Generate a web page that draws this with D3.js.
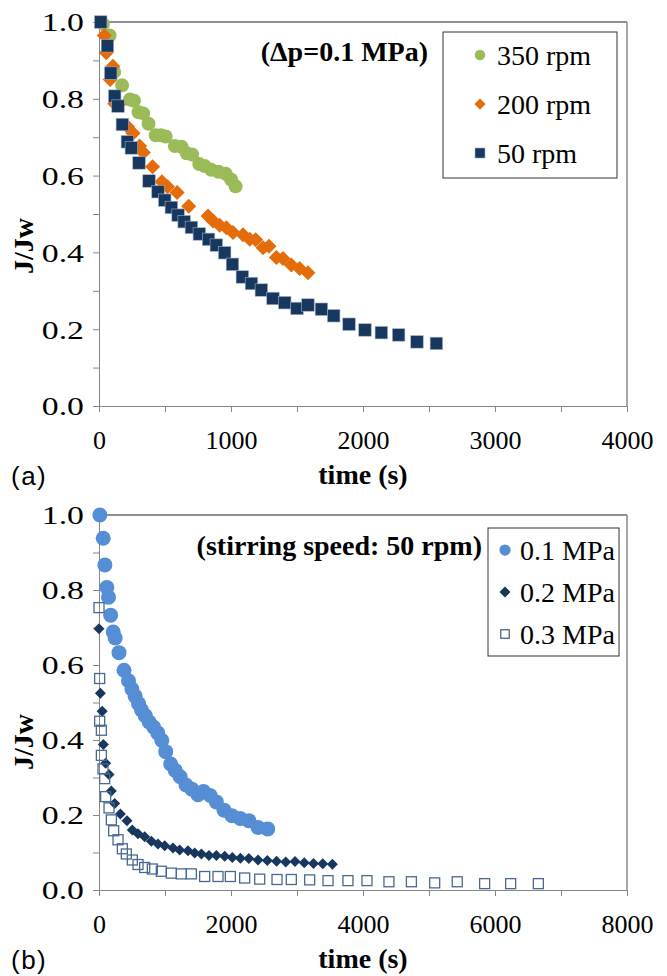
<!DOCTYPE html>
<html>
<head>
<meta charset="utf-8">
<script src="https://cdn.jsdelivr.net/npm/d3@7"></script>
<style>
	body { margin: 0; background: #fff; }
	svg { display: block; }
</style>
</head>
<body>
<div id="chart"></div>
<script>
// panel (a): normalised flux J/Jw vs time at dp = 0.1 MPa, three stirring speeds
// each entry is [time (s), J/Jw]
const rpm350 = [[30,0.995],[80,0.965],[115,0.87],[175,0.835],[235,0.798],[265,0.795],[300,0.765],[335,0.762],
	[375,0.735],[430,0.705],[470,0.705],[505,0.702],[575,0.677],[625,0.675],[665,0.658],[705,0.655],[760,0.63],
	[800,0.625],[850,0.615],[905,0.61],[960,0.605],[1000,0.59],[1035,0.572]]

const rpm200 = [[40,0.965],[55,0.92],[105,0.885],[85,0.85],[120,0.787],[150,0.785],[215,0.728],[258,0.71],
	[308,0.677],[336,0.66],[406,0.623],[477,0.584],[519,0.571],[592,0.556],[680,0.52],[826,0.495],[864,0.482],
	[914,0.471],[965,0.464],[1015,0.452],[1091,0.446],[1142,0.434],[1187,0.433],[1243,0.412],[1288,0.416],
	[1344,0.387],[1394,0.384],[1457,0.367],[1520,0.358],[1583,0.347]]

// same run appears in panel (b) as the 0.1 MPa series
const rpm50 = [[13,1.0],[64,0.938],[89,0.867],[119,0.807],[144,0.781],[177,0.733],[215,0.688],[245,0.672],
	[303,0.633],[379,0.586],[447,0.558],[498,0.536],[548,0.517],[599,0.497],[645,0.48],[700,0.465],[760,0.448],
	[830,0.434],[889,0.419],[952,0.399],[1011,0.369],[1086,0.336],[1155,0.319],[1230,0.302],[1318,0.28],
	[1407,0.269],[1500,0.254],[1583,0.263],[1685,0.252],[1778,0.235],[1894,0.213],[2015,0.198],[2139,0.191],
	[2270,0.185],[2409,0.167],[2556,0.163]]

// panel (b): 50 rpm, three pressures
const mpa01 = rpm50

const mpa02 = [[0,0.697],[21,0.525],[48,0.477],[66,0.388],[101,0.338],[152,0.308],[187,0.264],[238,0.231],
	[324,0.203],[424,0.185],[505,0.16],[591,0.15],[692,0.142],[793,0.13],[894,0.123],[995,0.118],[1121,0.112],
	[1222,0.107],[1348,0.105],[1450,0.099],[1551,0.096],[1666,0.092],[1778,0.092],[1904,0.09],[2020,0.087],
	[2142,0.085],[2270,0.084],[2410,0.08],[2550,0.079],[2690,0.077],[2830,0.075],[2970,0.076],[3110,0.073],
	[3250,0.071],[3390,0.07],[3536,0.069]]

const mpa03 = [[0,0.753],[10,0.564],[10,0.45],[36,0.426],[36,0.359],[61,0.323],[86,0.297],[101,0.249],
	[152,0.219],[187,0.187],[222,0.158],[288,0.134],[354,0.11],[414,0.096],[505,0.08],[591,0.068],[692,0.06],
	[808,0.056],[944,0.05],[1096,0.045],[1248,0.043],[1399,0.043],[1601,0.036],[1803,0.036],[1990,0.036],
	[2207,0.032],[2435,0.029],[2697,0.028],[2914,0.028],[3192,0.027],[3470,0.025],[3772,0.025],[4060,0.025],
	[4393,0.022],[4733,0.022],[5086,0.019],[5428,0.022],[5843,0.017],[6237,0.017],[6657,0.017]]

const legendA = ['350 rpm', '200 rpm', '50 rpm']
const legendB = ['0.1 MPa', '0.2 MPa', '0.3 MPa']

const serif = "'Liberation Serif', 'Times New Roman', serif"
const sans = "'Liberation Sans', Arial, sans-serif"
const axisGrey = '#868686'

const svg = d3.select('#chart')
	.append('svg')
	.attr('width', 667)
	.attr('height', 976)

// draws one marker of the given style at x, y
function drawMarker(g, st, x, y, legend) {
	const k = legend ? st.legendScale : 1
	if (st.shape == 'circle') {
		g.append('circle')
			.attr('cx', x).attr('cy', y)
			.attr('r', st.size / 2 * k)
			.attr('fill', st.fill)
	} else if (st.shape == 'diamond') {
		const h = st.size / 2 * k
		g.append('path')
			.attr('d', `M${x},${y - h}L${x + h},${y}L${x},${y + h}L${x - h},${y}Z`)
			.attr('fill', st.fill)
	} else if (st.shape == 'square') {
		const h = st.size / 2 * k
		g.append('rect')
			.attr('x', x - h).attr('y', y - h)
			.attr('width', 2 * h).attr('height', 2 * h)
			.attr('fill', st.fill)
			.attr('stroke', st.stroke)
			.attr('stroke-width', st.strokeWidth)
	}
}

function panel(p) {
	const x = d3.scaleLinear().domain([0, p.xMax]).range([99, 627])
	const y = d3.scaleLinear().domain([0, 1]).range([p.bottom, p.top])

	const g = svg.append('g')

	// x axis: ticks every p.xMinor, labels every p.xLabel
	const xAxis = d3.axisBottom(x)
		.tickValues(d3.range(0, p.xMax + 1, p.xMinor))
		.tickFormat(d => d % p.xLabel == 0 ? d : '')
		.tickSize(6)
		.tickSizeOuter(0)
	const gx = g.append('g')
		.attr('transform', `translate(0,${p.bottom})`)
		.call(xAxis)
	gx.selectAll('text')
		.attr('y', 43).attr('dy', 0)
		.style('font-family', serif).style('font-size', '26px').attr('fill', '#000')

	// y axis: ticks every 0.1, labels every 0.2 (labels look stretched sideways in the original)
	const yAxis = d3.axisLeft(y)
		.tickValues(d3.range(0, 11).map(i => i / 10))
		.tickFormat(d => Math.round(d * 10) % 2 == 0 ? d3.format('.1f')(d) : '')
		.tickSize(6)
		.tickSizeOuter(0)
	const gy = g.append('g')
		.attr('transform', 'translate(99,0)')
		.call(yAxis)
	gy.selectAll('text')
		.attr('x', -15 / 1.3).attr('dy', '0.34em')
		.attr('transform', 'scale(1.3,1)')
		.style('font-family', serif).style('font-size', '26px').attr('fill', '#000')

	g.selectAll('.domain, .tick line').attr('stroke', axisGrey)

	// plot area border: dark top, grey right side
	g.append('line')
		.attr('x1', 99).attr('x2', 627).attr('y1', p.top).attr('y2', p.top)
		.attr('stroke', '#222').attr('stroke-width', 1.2)
	g.append('line')
		.attr('x1', 627).attr('x2', 627).attr('y1', p.top).attr('y2', p.bottom)
		.attr('stroke', '#8a8a8a').attr('stroke-width', 1.5)

	// series, first one at the back
	p.series.forEach(s => {
		const sg = g.append('g')
		s.data.forEach(d => drawMarker(sg, s, x(d[0]), y(d[1]), false))
	})

	// axis titles
	g.append('text')
		.attr('transform', `translate(${p.yTitleX},${p.yTitleY}) rotate(-90)`)
		.attr('text-anchor', 'middle')
		.style('font-family', serif).style('font-size', '28px').style('font-weight', 'bold')
		.text('J/Jw')
	g.append('text')
		.attr('x', 363).attr('y', p.bottom + 78)
		.attr('text-anchor', 'middle')
		.style('font-family', serif).style('font-size', '28px').style('font-weight', 'bold')
		.text('time (s)')

	// panel letter
	g.append('text')
		.attr('x', 11).attr('y', p.bottom + 79)
		.style('font-family', sans).style('font-size', '26px').style('letter-spacing', '1.5px')
		.text(p.label)

	// annotation inside the plot
	g.append('text')
		.attr('x', p.noteX).attr('y', p.noteY)
		.attr('text-anchor', 'end')
		.style('font-family', serif).style('font-size', '28px').style('font-weight', 'bold')
		.text(p.note)

	// legend box
	const lg = g.append('g')
	lg.append('rect')
		.attr('x', p.legend.x).attr('y', p.legend.y)
		.attr('width', p.legend.w).attr('height', p.legend.h)
		.attr('fill', '#fff').attr('stroke', '#333').attr('stroke-width', 1)
	p.series.forEach((s, i) => {
		const cy = p.legend.y0 + i * p.legend.step
		drawMarker(lg, s, p.legend.mx, cy, true)
		lg.append('text')
			.attr('x', p.legend.tx).attr('y', cy + 9.5)
			.style('font-family', serif).style('font-size', '28px')
			.text(p.names[i])
	})
}

panel({
	top: 22, bottom: 406, xMax: 4000, xMinor: 500, xLabel: 1000,
	yTitleX: 33, yTitleY: 246, label: '(a)',
	note: '(\u0394p=0.1 MPa)', noteX: 428, noteY: 61,
	names: legendA,
	legend: { x: 443, y: 32, w: 174, h: 146, y0: 55, step: 49, mx: 480, tx: 497 },
	series: [
		{ data: rpm350, shape: 'circle', size: 14, fill: '#9BBB59', legendScale: 0.75 },
		{ data: rpm200, shape: 'diamond', size: 15, fill: '#E46C0A', legendScale: 0.75 },
		{ data: rpm50, shape: 'square', size: 12.5, fill: '#17375E', stroke: '#9fb2cc', strokeWidth: 0.6, legendScale: 0.8 }
	]
})

panel({
	top: 515, bottom: 890, xMax: 8000, xMinor: 1000, xLabel: 2000,
	yTitleX: 33, yTitleY: 742, label: '(b)',
	note: '(stirring speed: 50 rpm)', noteX: 482, noteY: 555,
	names: legendB,
	legend: { x: 488, y: 528, w: 131, h: 128, y0: 550, step: 42, mx: 505, tx: 520 },
	series: [
		{ data: mpa01, shape: 'circle', size: 15, fill: '#558ED5', legendScale: 0.75 },
		{ data: mpa02, shape: 'diamond', size: 11, fill: '#17375E', legendScale: 1 },
		{ data: mpa03, shape: 'square', size: 10, fill: 'none', stroke: '#4A6890', strokeWidth: 1.3, legendScale: 0.85 }
	]
})
</script>
</body>
</html>
